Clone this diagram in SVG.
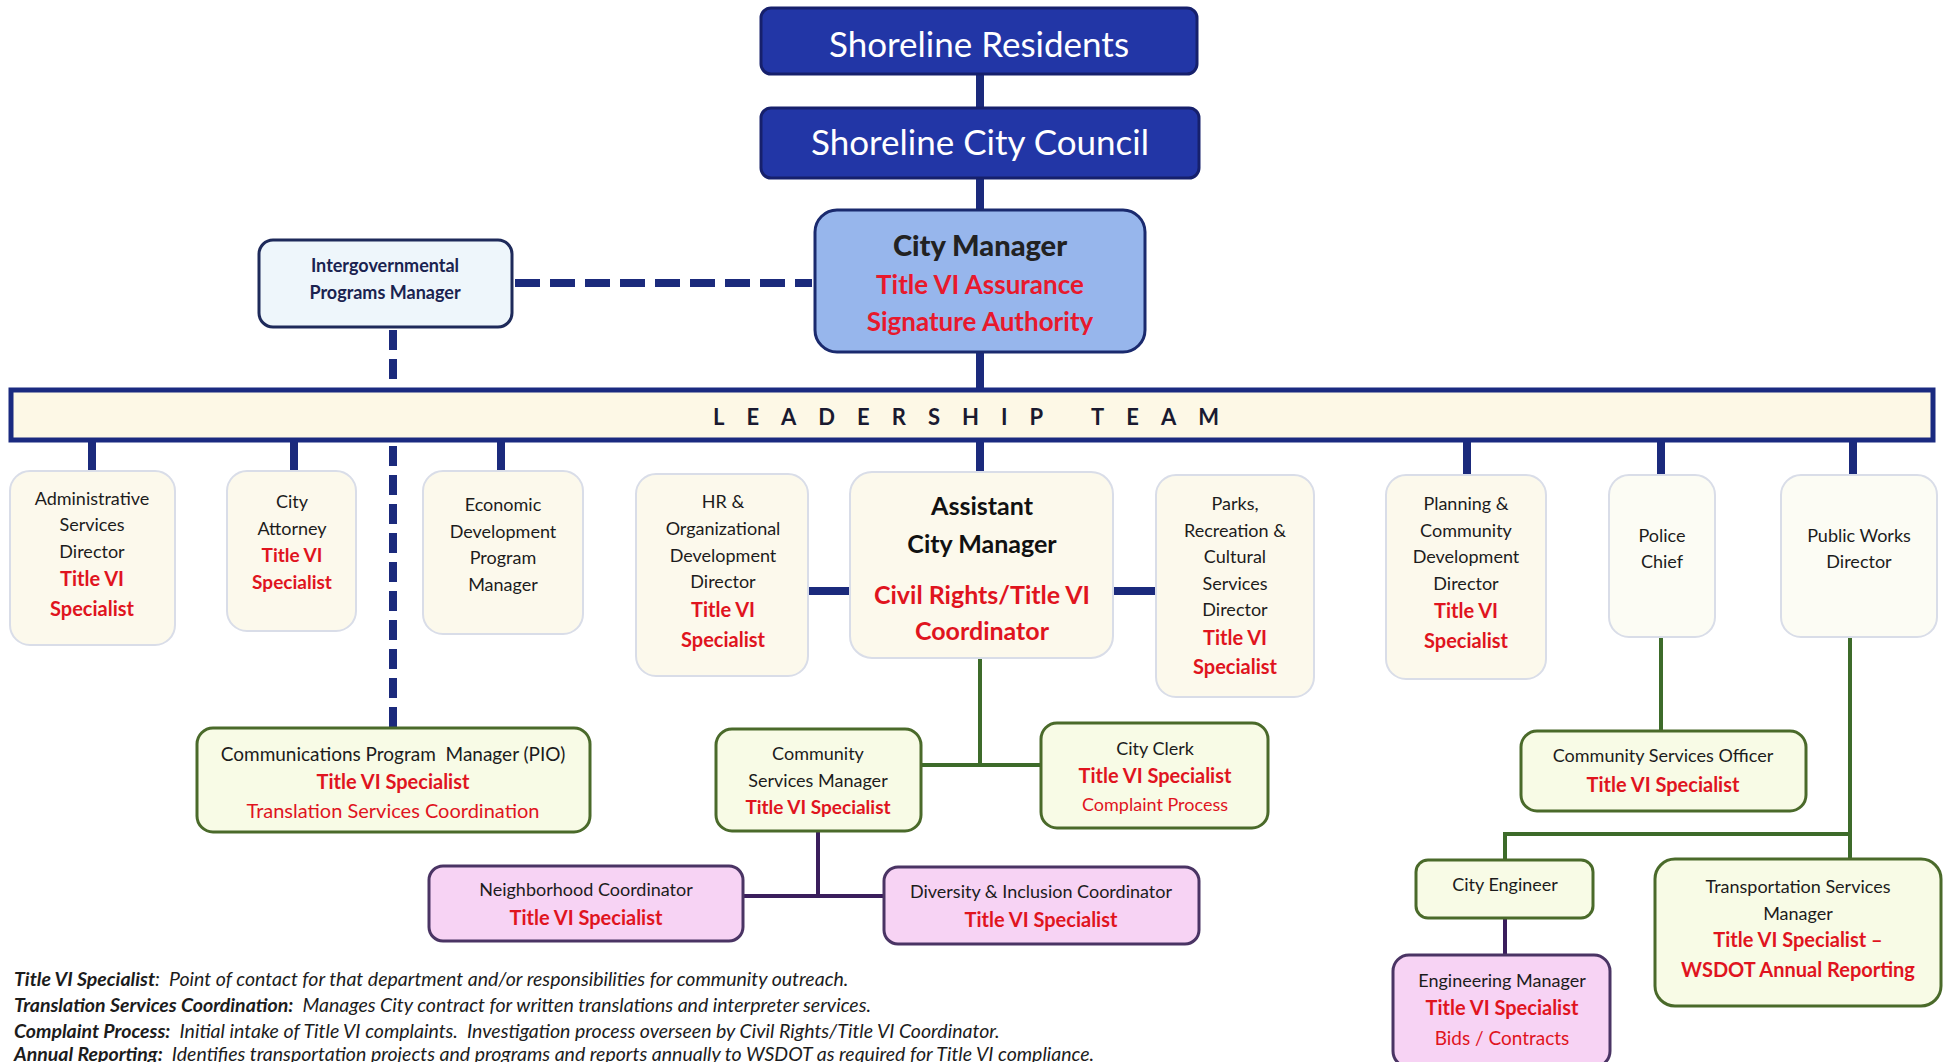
<svg xmlns="http://www.w3.org/2000/svg" width="1944" height="1062" viewBox="0 0 1944 1062">
<style>
text{font-family:Lato,"Open Sans","Liberation Sans",sans-serif;text-anchor:middle}
.navy{fill:#2236a6;stroke:#16206c;stroke-width:3}
.wt{fill:#fff;font-size:35px}
.lead{fill:#fdf8e6;stroke:#1a2a80;stroke-width:5}
.kid{fill:#fcf9ec;stroke:#d9dde8;stroke-width:2}
.kid2{fill:#fcfcf4;stroke:#d9dde8;stroke-width:2}
.grn{fill:#f8fbe6;stroke:#4a6a2a;stroke-width:3}
.pink{fill:#f7d3f4;stroke:#4a3464;stroke-width:3}
.b{fill:#1c1c1c;font-size:18px}
.r{fill:#e0141e;font-size:20px;font-weight:700}
.rr{fill:#e0141e;font-size:18px}
.cn{stroke:#1b2a7c;stroke-width:8;fill:none}
.gl{stroke:#3d6b2a;stroke-width:4;fill:none}
.pl{stroke:#3a1e5c;stroke-width:4;fill:none}
.dash{stroke:#1b2a7c;stroke-width:8;fill:none;stroke-dasharray:25 10}
.fn{font-size:19.5px;font-style:italic;fill:#1c1c1c;text-anchor:start}
.fb{font-weight:700}
</style>
<rect width="1944" height="1062" fill="#fff"/>
<g id="connectors">
<line class="cn" x1="980" y1="74" x2="980" y2="108"/>
<line class="cn" x1="980" y1="177" x2="980" y2="210"/>
<line class="cn" x1="980" y1="352" x2="980" y2="388"/>
<line class="dash" x1="515" y1="283" x2="812" y2="283"/>
<line class="dash" x1="393" y1="330" x2="393" y2="728" style="stroke-dasharray:20 9"/>
<line class="cn" x1="92" y1="440" x2="92" y2="471"/>
<line class="cn" x1="294" y1="440" x2="294" y2="471"/>
<line class="cn" x1="501" y1="440" x2="501" y2="471"/>
<line class="cn" x1="980" y1="440" x2="980" y2="472"/>
<line class="cn" x1="1467" y1="440" x2="1467" y2="475"/>
<line class="cn" x1="1661" y1="440" x2="1661" y2="475"/>
<line class="cn" x1="1853" y1="440" x2="1853" y2="475"/>
<line class="cn" x1="808" y1="591" x2="850" y2="591"/>
<line class="cn" x1="1113" y1="591" x2="1156" y2="591"/>
<path class="gl" d="M980 658 V765 M921 765 H1041"/>
<path class="pl" d="M818 831 V896 M743 896 H883"/>
<path class="gl" d="M1661 637 V731"/>
<path class="gl" d="M1850 637 V859 M1505 834 H1850 M1505 832 V860"/>
<path class="pl" d="M1505 918 V955"/>
</g>
<g id="residents">
<rect class="navy" x="761" y="8" width="436" height="66" rx="10"/>
<text class="wt" x="979" y="57">Shoreline Residents</text>
</g>
<g id="council">
<rect class="navy" x="761" y="108" width="438" height="70" rx="10"/>
<text class="wt" x="980" y="155">Shoreline City Council</text>
</g>
<g id="city-manager">
<rect x="815" y="210" width="330" height="142" rx="22" fill="#97b6ec" stroke="#1a2a6e" stroke-width="3"/>
<text x="980" y="256" style="font-size:29px;font-weight:900;fill:#222">City Manager</text>
<text x="980" y="294" style="font-size:26px;font-weight:700;fill:#e8192c">Title VI Assurance</text>
<text x="980" y="331" style="font-size:26px;font-weight:700;fill:#e8192c">Signature Authority</text>
</g>
<g id="intergov">
<rect x="259" y="240" width="253" height="87" rx="14" fill="#eef6fb" stroke="#1e2a5a" stroke-width="3"/>
<text x="385" y="272" style="font-size:18px;font-weight:700;fill:#1a2350">Intergovernmental</text>
<text x="385" y="299" style="font-size:18px;font-weight:700;fill:#1a2350">Programs Manager</text>
</g>
<g id="leadership-team">
<rect class="lead" x="11" y="390" width="1922" height="50"/>
<text x="713" y="425" style="text-anchor:start;font-size:22px;font-weight:700;letter-spacing:22px;fill:#1a1a30">LEADERSHIP TEAM</text>
</g>
<g id="admin">
<rect class="kid" x="10" y="471" width="165" height="174" rx="20"/>
<text class="b" x="92" y="505">Administrative</text>
<text class="b" x="92" y="531">Services</text>
<text class="b" x="92" y="558">Director</text>
<text class="r" x="92" y="586">Title VI</text>
<text class="r" x="92" y="616">Specialist</text>
</g>
<g id="attorney">
<rect class="kid" x="227" y="471" width="129" height="160" rx="20"/>
<text class="b" x="292" y="508">City</text>
<text class="b" x="292" y="535">Attorney</text>
<text class="r" x="292" y="562" style="font-size:19px">Title VI</text>
<text class="r" x="292" y="589" style="font-size:19px">Specialist</text>
</g>
<g id="econ">
<rect class="kid" x="423" y="471" width="160" height="163" rx="20"/>
<text class="b" x="503" y="511">Economic</text>
<text class="b" x="503" y="538">Development</text>
<text class="b" x="503" y="564">Program</text>
<text class="b" x="503" y="591">Manager</text>
</g>
<g id="hr">
<rect class="kid" x="636" y="474" width="172" height="202" rx="20"/>
<text class="b" x="723" y="508">HR &amp;</text>
<text class="b" x="723" y="535">Organizational</text>
<text class="b" x="723" y="562">Development</text>
<text class="b" x="723" y="588">Director</text>
<text class="r" x="723" y="617">Title VI</text>
<text class="r" x="723" y="647">Specialist</text>
</g>
<g id="acm">
<rect class="kid" x="850" y="472" width="263" height="186" rx="22"/>
<text x="982" y="515" style="font-size:25px;font-weight:700;fill:#111">Assistant</text>
<text x="982" y="553" style="font-size:25px;font-weight:700;fill:#111">City Manager</text>
<text x="982" y="604" style="font-size:25px;font-weight:700;fill:#e0141e">Civil Rights/Title VI</text>
<text x="982" y="640" style="font-size:25px;font-weight:700;fill:#e0141e">Coordinator</text>
</g>
<g id="parks">
<rect class="kid" x="1156" y="475" width="158" height="222" rx="20"/>
<text class="b" x="1235" y="510">Parks,</text>
<text class="b" x="1235" y="537">Recreation &amp;</text>
<text class="b" x="1235" y="563">Cultural</text>
<text class="b" x="1235" y="590">Services</text>
<text class="b" x="1235" y="616">Director</text>
<text class="r" x="1235" y="645">Title VI</text>
<text class="r" x="1235" y="674">Specialist</text>
</g>
<g id="planning">
<rect class="kid" x="1386" y="475" width="160" height="204" rx="20"/>
<text class="b" x="1466" y="510">Planning &amp;</text>
<text class="b" x="1466" y="537">Community</text>
<text class="b" x="1466" y="563">Development</text>
<text class="b" x="1466" y="590">Director</text>
<text class="r" x="1466" y="618">Title VI</text>
<text class="r" x="1466" y="648">Specialist</text>
</g>
<g id="police">
<rect class="kid2" x="1609" y="475" width="106" height="162" rx="20"/>
<text class="b" x="1662" y="542">Police</text>
<text class="b" x="1662" y="568">Chief</text>
</g>
<g id="public-works">
<rect class="kid2" x="1781" y="475" width="156" height="162" rx="20"/>
<text class="b" x="1859" y="542">Public Works</text>
<text class="b" x="1859" y="568">Director</text>
</g>
<g id="communications">
<rect class="grn" x="197" y="728" width="393" height="104" rx="16"/>
<text class="b" x="393" y="761" style="font-size:19px" xml:space="preserve">Communications Program  Manager (PIO)</text>
<text class="r" x="393" y="789">Title VI Specialist</text>
<text class="rr" x="393" y="818" style="font-size:20px">Translation Services Coordination</text>
</g>
<g id="community-services-manager">
<rect class="grn" x="716" y="729" width="205" height="102" rx="16"/>
<text class="b" x="818" y="760">Community</text>
<text class="b" x="818" y="787">Services Manager</text>
<text class="r" x="818" y="814" style="font-size:19px">Title VI Specialist</text>
</g>
<g id="city-clerk">
<rect class="grn" x="1041" y="723" width="227" height="105" rx="16"/>
<text class="b" x="1155" y="755">City Clerk</text>
<text class="r" x="1155" y="783">Title VI Specialist</text>
<text class="rr" x="1155" y="811">Complaint Process</text>
</g>
<g id="neighborhood">
<rect class="pink" x="429" y="866" width="314" height="75" rx="14"/>
<text class="b" x="586" y="896">Neighborhood Coordinator</text>
<text class="r" x="586" y="925">Title VI Specialist</text>
</g>
<g id="diversity">
<rect class="pink" x="884" y="867" width="315" height="77" rx="14"/>
<text class="b" x="1041" y="898">Diversity &amp; Inclusion Coordinator</text>
<text class="r" x="1041" y="927">Title VI Specialist</text>
</g>
<g id="cso">
<rect class="grn" x="1521" y="731" width="285" height="80" rx="16"/>
<text class="b" x="1663" y="762">Community Services Officer</text>
<text class="r" x="1663" y="792">Title VI Specialist</text>
</g>
<g id="city-engineer">
<rect class="grn" x="1416" y="860" width="177" height="58" rx="12"/>
<text class="b" x="1505" y="891">City Engineer</text>
</g>
<g id="transportation">
<rect class="grn" x="1655" y="859" width="286" height="147" rx="20"/>
<text class="b" x="1798" y="893">Transportation Services</text>
<text class="b" x="1798" y="920">Manager</text>
<text class="r" x="1798" y="947">Title VI Specialist –</text>
<text class="r" x="1798" y="977">WSDOT Annual Reporting</text>
</g>
<g id="engineering-manager">
<rect class="pink" x="1393" y="955" width="217" height="112" rx="16"/>
<text class="b" x="1502" y="987">Engineering Manager</text>
<text class="r" x="1502" y="1015">Title VI Specialist</text>
<text class="rr" x="1502" y="1045" style="font-size:19px">Bids / Contracts</text>
</g>
<g id="footnotes">
<text class="fn" x="14" y="986" xml:space="preserve"><tspan class="fb">Title VI Specialist</tspan>:  Point of contact for that department and/or responsibilities for community outreach.</text>
<text class="fn" x="14" y="1012" xml:space="preserve"><tspan class="fb">Translation Services Coordination:</tspan>  Manages City contract for written translations and interpreter services.</text>
<text class="fn" x="14" y="1038" xml:space="preserve"><tspan class="fb">Complaint Process:</tspan>  Initial intake of Title VI complaints.  Investigation process overseen by Civil Rights/Title VI Coordinator.</text>
<text class="fn" x="14" y="1061" xml:space="preserve"><tspan class="fb">Annual Reporting:</tspan>  Identifies transportation projects and programs and reports annually to WSDOT as required for Title VI compliance.</text>
</g>
</svg>
